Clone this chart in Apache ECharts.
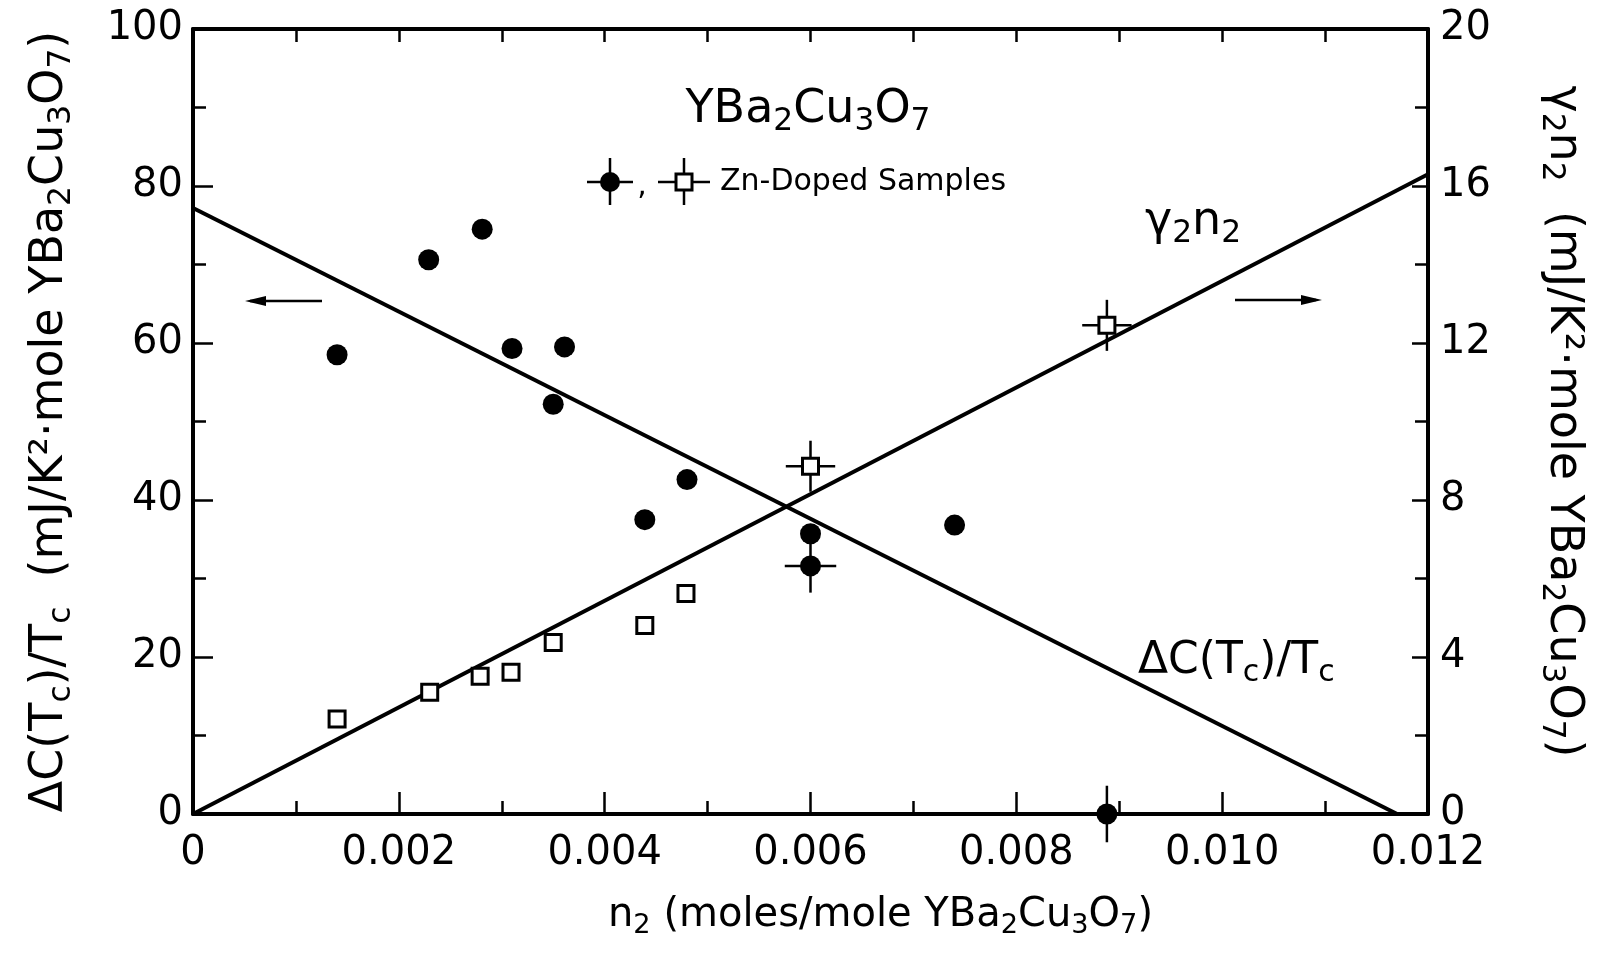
<!DOCTYPE html>
<html>
<head>
<meta charset="utf-8">
<script src="https://cdn.jsdelivr.net/npm/echarts@6/dist/echarts.min.js"></script>
<style>
  html, body { margin: 0; background: #fff; }
  #chart { width: 1603px; height: 957px; }
</style>
</head>
<body>
<div id="chart"></div>
<script>
// filled circles: Delta C(Tc)/Tc, left axis
const dotX = [0.00140, 0.00229, 0.00281, 0.00310, 0.00350, 0.00361, 0.00439, 0.00480, 0.00600, 0.00600, 0.00740, 0.00888];
const dotY = [58.5, 70.6, 74.5, 59.3, 52.2, 59.5, 37.5, 42.6, 35.7, 31.6, 36.8, 0];
// open squares: gamma2 n2, right axis
const squareX = [0.00140, 0.00230, 0.00279, 0.00309, 0.00350, 0.00439, 0.00479, 0.00600, 0.00888];
const squareY = [2.42, 3.10, 3.51, 3.61, 4.37, 4.80, 5.62, 8.86, 12.45];
// error bars
const dotBarX = [0.00600, 0.00888];
const dotBarY = [31.6, 0];
const dotBarDX = [0.00025, 0.00022];
const dotBarDY = [3.4, 3.6];
const squareBarX = [0.00600, 0.00888];
const squareBarY = [8.86, 12.45];
const squareBarDX = [0.00024, 0.00024];
const squareBarDY = [0.65, 0.65];
// fitted lines
const dcLineX = [0, 0.0117];
const dcLineY = [77.2, 0];
const gammaLineX = [0, 0.012];
const gammaLineY = [0, 16.3];

const FONT = 'DejaVu Sans';
const chart = echarts.init(document.getElementById('chart'));

function subRich(size) {
  return {
    s: { fontSize: size * 0.68, fontFamily: FONT, color: '#000', fill: '#000',
         padding: [size * 0.5, 0, 0, 0], verticalAlign: 'middle' }
  };
}

function pairs(xs, ys) {
  return xs.map((x, i) => [x, ys[i]]);
}

function barItems(xs, ys, dx, dy) {
  return xs.map((x, i) => [x, ys[i], dx[i], dy[i]]);
}

function renderBars(params, api) {
  const x = api.value(0), y = api.value(1), ex = api.value(2), ey = api.value(3);
  const l = api.coord([x - ex, y]), r = api.coord([x + ex, y]);
  const t = api.coord([x, y + ey]), b = api.coord([x, y - ey]);
  const st = { stroke: '#000', lineWidth: 2.5 };
  return {
    type: 'group',
    children: [
      { type: 'line', shape: { x1: l[0], y1: l[1], x2: r[0], y2: r[1] }, style: st },
      { type: 'line', shape: { x1: t[0], y1: t[1], x2: b[0], y2: b[1] }, style: st }
    ]
  };
}

const axisLine = { onZero: false, lineStyle: { color: '#000', width: 4 } };
const tickStyle = { color: '#000', width: 2.5 };

function line(x1, y1, x2, y2, w) {
  return { type: 'line', shape: { x1, y1, x2, y2 }, style: { stroke: '#000', lineWidth: w || 2.5 } };
}

const option = {
  backgroundColor: '#fff',
  animation: false,
  grid: { left: 193, right: 175, top: 29, bottom: 143 },
  xAxis: [
    {
      type: 'value', position: 'bottom', min: 0, max: 0.012, interval: 0.002,
      axisLine: axisLine,
      axisTick: { inside: true, length: 22, lineStyle: tickStyle },
      minorTick: { show: true, splitNumber: 2, length: 13, lineStyle: tickStyle },
      splitLine: { show: false },
      axisLabel: {
        fontSize: 40, fontFamily: FONT, color: '#000', margin: 20,
        formatter: v => (v === 0 ? '0' : v.toFixed(3))
      },
      name: 'n{s|2} (moles/mole YBa{s|2}Cu{s|3}O{s|7})',
      nameLocation: 'middle', nameGap: 78,
      nameTextStyle: { fontSize: 40, fontFamily: FONT, color: '#000', padding: [0, 0, 0, 140], rich: subRich(40) }
    },
    {
      type: 'value', position: 'top', min: 0, max: 0.012, interval: 0.002,
      axisLine: axisLine,
      axisTick: { inside: true, length: 13, lineStyle: tickStyle },
      minorTick: { show: true, splitNumber: 2, length: 13, lineStyle: tickStyle },
      splitLine: { show: false },
      axisLabel: { show: false }
    }
  ],
  yAxis: [
    {
      type: 'value', position: 'left', min: 0, max: 100, interval: 20,
      axisLine: axisLine,
      axisTick: { inside: true, length: 20, lineStyle: tickStyle },
      minorTick: { show: true, splitNumber: 2, length: 13, lineStyle: tickStyle },
      splitLine: { show: false },
      axisLabel: { fontSize: 40, fontFamily: FONT, color: '#000', margin: 10 },
      name: 'ΔC(T{s|c})/T{s|c}  (mJ/K²·mole YBa{s|2}Cu{s|3}O{s|7})',
      nameLocation: 'middle', nameGap: 116,
      nameTextStyle: { fontSize: 46, fontFamily: FONT, color: '#000', rich: subRich(46) }
    },
    {
      type: 'value', position: 'right', min: 0, max: 20, interval: 4,
      axisLine: axisLine,
      axisTick: { inside: true, length: 16, lineStyle: tickStyle },
      minorTick: { show: true, splitNumber: 2, length: 13, lineStyle: tickStyle },
      splitLine: { show: false },
      axisLabel: { fontSize: 40, fontFamily: FONT, color: '#000', margin: 12 },
      name: 'γ{s|2}n{s|2}  (mJ/K²·mole YBa{s|2}Cu{s|3}O{s|7})',
      nameLocation: 'middle', nameGap: 108, nameRotate: -90,
      nameTextStyle: { fontSize: 46, fontFamily: FONT, color: '#000', rich: subRich(46) }
    }
  ],
  series: [
    {
      name: 'dC fit', type: 'line', yAxisIndex: 0, z: 3,
      data: pairs(dcLineX, dcLineY), showSymbol: false,
      lineStyle: { color: '#000', width: 4 }
    },
    {
      name: 'gamma fit', type: 'line', yAxisIndex: 1, z: 3,
      data: pairs(gammaLineX, gammaLineY), showSymbol: false,
      lineStyle: { color: '#000', width: 4 }
    },
    {
      name: 'dot bars', type: 'custom', yAxisIndex: 0, z: 4, clip: false,
      renderItem: renderBars, encode: { x: 0, y: 1 },
      data: barItems(dotBarX, dotBarY, dotBarDX, dotBarDY)
    },
    {
      name: 'square bars', type: 'custom', yAxisIndex: 1, z: 4, clip: false,
      renderItem: renderBars, encode: { x: 0, y: 1 },
      data: barItems(squareBarX, squareBarY, squareBarDX, squareBarDY)
    },
    {
      name: 'ΔC(Tc)/Tc', type: 'scatter', yAxisIndex: 0, z: 5,
      symbol: 'circle', symbolSize: 21,
      itemStyle: { color: '#000', opacity: 1 },
      data: pairs(dotX, dotY)
    },
    {
      name: 'γ2n2', type: 'scatter', yAxisIndex: 1, z: 5,
      symbol: 'rect', symbolSize: 16,
      itemStyle: { color: '#fff', borderColor: '#000', borderWidth: 3, opacity: 1 },
      data: pairs(squareX, squareY)
    }
  ],
  graphic: [
    {
      type: 'text', x: 808, y: 110, z: 10,
      style: { text: 'YBa{s|2}Cu{s|3}O{s|7}', fontSize: 46, fontFamily: FONT, fill: '#000',
               align: 'center', verticalAlign: 'middle', rich: subRich(46) }
    },
    // legend: filled circle and open square with error crosses
    line(587, 182, 633, 182), line(610, 158, 610, 205),
    { type: 'circle', shape: { cx: 610, cy: 182, r: 10 }, style: { fill: '#000' } },
    { type: 'text', x: 642, y: 186, style: { text: ',', fontSize: 30, fontFamily: FONT, fill: '#000', align: 'center', verticalAlign: 'middle' } },
    line(658, 182, 710, 182), line(684, 158, 684, 205),
    { type: 'rect', shape: { x: 676, y: 174, width: 16, height: 16 }, style: { fill: '#fff', stroke: '#000', lineWidth: 3 } },
    {
      type: 'text', x: 720, y: 182,
      style: { text: 'Zn-Doped Samples', fontSize: 30, fontFamily: FONT, fill: '#000', align: 'left', verticalAlign: 'middle' }
    },
    // curve labels
    {
      type: 'text', x: 1145, y: 222,
      style: { text: 'γ{s|2}n{s|2}', fontSize: 46, fontFamily: FONT, fill: '#000',
               align: 'left', verticalAlign: 'middle', rich: subRich(46) }
    },
    {
      type: 'text', x: 1138, y: 662,
      style: { text: 'ΔC(T{s|c})/T{s|c}', fontSize: 44, fontFamily: FONT, fill: '#000',
               align: 'left', verticalAlign: 'middle', rich: subRich(44) }
    },
    // arrows
    line(250, 301, 322, 301, 2.5),
    { type: 'polygon', shape: { points: [[245, 301], [266, 296], [266, 306]] }, style: { fill: '#000' } },
    line(1235, 300, 1316, 300, 2.5),
    { type: 'polygon', shape: { points: [[1322, 300], [1301, 295], [1301, 305]] }, style: { fill: '#000' } }
  ]
};

chart.setOption(option);
</script>
</body>
</html>
